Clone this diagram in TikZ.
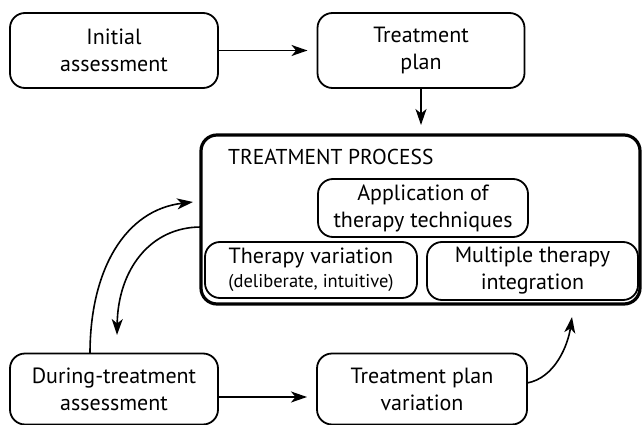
\documentclass[tikz,border=0pt]{standalone}
\usepackage{fontspec}
\setmainfont{PT Sans}
\usetikzlibrary{arrows.meta}
\begin{document}
\begin{tikzpicture}[x=1pt,y=-1pt,
  box/.style={draw, line width=1.8pt, rounded corners=15pt, inner sep=0pt, outer sep=0pt, align=center,
    font=\fontsize{22}{27}\selectfont},
  procbox/.style={draw, line width=3.2pt, rounded corners=16pt, inner sep=0pt, outer sep=0pt},
  conn/.style={line width=1.6pt, -{Stealth[length=16pt,width=11pt,inset=4.5pt]}}
]
\useasboundingbox (0,0) rectangle (642,425);
\node[box, minimum width=208pt, minimum height=75pt] (init) at (114,50.5) {Initial\\assessment};
\node[box, minimum width=207pt, minimum height=75pt] (plan) at (421,50.5) {Treatment\\plan};
\node[procbox, minimum width=439pt, minimum height=169pt] (proc) at (420.5,219.5) {};
\node[anchor=west, inner sep=0pt, font=\fontsize{21.5}{27}\selectfont] (title) at (228,157) {TREATMENT PROCESS};
\node[box, minimum width=210pt, minimum height=58pt] (app) at (423,208) {Application of\\therapy techniques};
\node[box, minimum width=212pt, minimum height=56pt] (tvar) at (311,270) {Therapy variation\\[-3pt]{\fontsize{18.5}{21}\selectfont(deliberate, intuitive)}};
\node[box, minimum width=211pt, minimum height=58pt] (mult) at (532.5,271) {Multiple therapy\\integration};
\node[box, minimum width=208pt, minimum height=71pt] (dur) at (114,389) {During-treatment\\assessment};
\node[box, minimum width=210pt, minimum height=71pt] (tpv) at (422,389) {Treatment plan\\variation};

\draw[conn, shorten >=10pt] (init.east) -- (plan.west);
\draw[conn, shorten >=10pt] (plan.south) -- (proc.north -| plan.south);
\draw[conn, shorten >=10pt] ([yshift=-8pt]dur.east) -- ([yshift=-8pt]tpv.west);
\draw[conn] (dur.north -| 90,0) .. controls (90,270) and (125,210) .. (193,202);
\draw[conn] (proc.west |- 0,227) .. controls (150,227) and (118,270) .. (117,335);
\draw[conn] (tpv.east |- 0,383) .. controls (555,378) and (568,345) .. (572,317);
\end{tikzpicture}
\end{document}
